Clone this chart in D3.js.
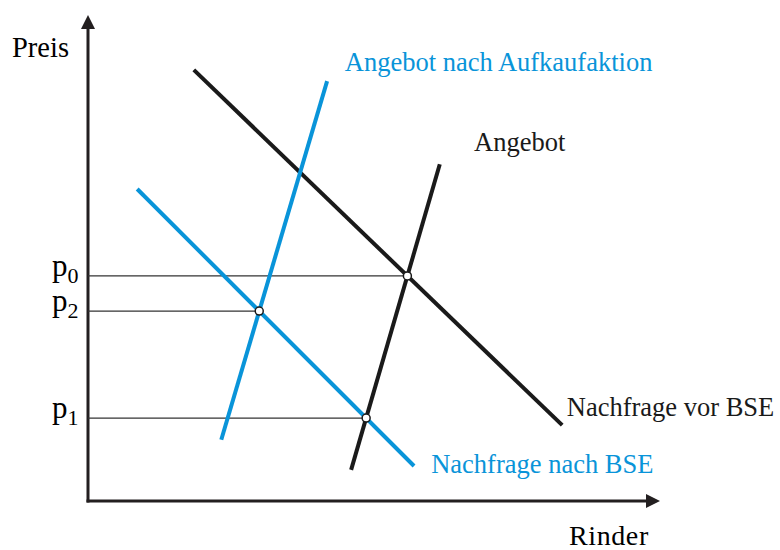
<!DOCTYPE html>
<html lang="de">
<head>
<meta charset="UTF-8">
<title>BSE Markt</title>
<script src="https://d3js.org/d3.v7.min.js"></script>
<style>
  body { margin: 0; background: #fff; }
  text { font-family: "Liberation Serif", "Times New Roman", serif; }
</style>
</head>
<body>
<script>
    const width  = 780;
    const height = 550;

    // Kurven in Modell-Einheiten (Menge, Preis), 0..100
    const curveNames  = ['Nachfrage vor BSE', 'Angebot', 'Angebot nach Aufkaufaktion', 'Nachfrage nach BSE'];
    const curveColors = ['#1a1a1a', '#1a1a1a', '#0994d9', '#0994d9'];
    const curveStart  = [[18.5, 88.7], [46.0, 6.4], [23.3, 12.6], [8.6, 64.2]];
    const curveEnd    = [[82.9, 15.6], [61.5, 69.3], [41.8, 86.4], [57.0, 7.2]];

    // Gleichgewichtspunkte: [Kurve A, Kurve B, Index]
    const equilibria  = [[0, 1, '0'], [2, 3, '2'], [3, 1, '1']];

    // Beschriftungen der Kurven (Modell-Einheiten)
    const labelPos    = [[83.7, 17.5], [67.5, 72.0], [44.9, 88.5], [60.0, 5.8]];

    const x = d3.scaleLinear().domain([0, 100]).range([88, 660]);
    const y = d3.scaleLinear().domain([0, 100]).range([501, 15]);

    const svg = d3.select("body")
            .append("svg")
            .attr("width", width)
            .attr("height", height);

    // Achsen
    svg.append("line")
            .attr("x1", x(0)).attr("y1", y(0) + 1.5)
            .attr("x2", x(0)).attr("y2", y(100) + 12)
            .style("stroke", "#231f20").style("stroke-width", 3);
    svg.append("line")
            .attr("x1", x(0) - 1.5).attr("y1", y(0))
            .attr("x2", x(100) - 12).attr("y2", y(0))
            .style("stroke", "#231f20").style("stroke-width", 3);
    svg.append("path")
            .attr("d", `M${x(0)},${y(100)} L${x(0) - 7},${y(100) + 14} L${x(0) + 7},${y(100) + 14} Z`)
            .style("fill", "#231f20");
    svg.append("path")
            .attr("d", `M${x(100)},${y(0)} L${x(100) - 14},${y(0) - 7} L${x(100) - 14},${y(0) + 7} Z`)
            .style("fill", "#231f20");

    svg.append("text").attr("x", 12).attr("y", 57)
            .style("font-size", "28.5px").text("Preis");
    svg.append("text").attr("x", 569).attr("y", 545)
            .style("font-size", "28px").style("letter-spacing", "0.6px").text("Rinder");

    // Schnittpunkt zweier Kurven
    function intersect(i, j) {
        const [x1, y1] = curveStart[i], [x2, y2] = curveEnd[i];
        const [x3, y3] = curveStart[j], [x4, y4] = curveEnd[j];
        const d = (x1 - x2) * (y3 - y4) - (y1 - y2) * (x3 - x4);
        const t = ((x1 - x3) * (y3 - y4) - (y1 - y3) * (x3 - x4)) / d;
        return [x1 + t * (x2 - x1), y1 + t * (y2 - y1)];
    }

    const points = equilibria.map(e => ({ p: intersect(e[0], e[1]), label: e[2] }));

    // Hilfslinien
    svg.selectAll(".guide")
            .data(points)
            .enter().append("line")
            .attr("x1", x(0)).attr("y1", d => y(d.p[1]))
            .attr("x2", d => x(d.p[0])).attr("y2", d => y(d.p[1]))
            .style("stroke", "#333").style("stroke-width", 1.3);

    // Kurven
    svg.selectAll(".curve")
            .data(curveNames)
            .enter().append("line")
            .attr("x1", (d, i) => x(curveStart[i][0])).attr("y1", (d, i) => y(curveStart[i][1]))
            .attr("x2", (d, i) => x(curveEnd[i][0])).attr("y2", (d, i) => y(curveEnd[i][1]))
            .style("stroke", (d, i) => curveColors[i])
            .style("stroke-width", 4);

    svg.selectAll(".curveLabel")
            .data(curveNames)
            .enter().append("text")
            .attr("x", (d, i) => x(labelPos[i][0]))
            .attr("y", (d, i) => y(labelPos[i][1]))
            .style("font-size", "26.5px")
            .style("fill", (d, i) => curveColors[i])
            .text(d => d);

    // Punkte
    svg.selectAll(".pt")
            .data(points)
            .enter().append("circle")
            .attr("cx", d => x(d.p[0])).attr("cy", d => y(d.p[1]))
            .attr("r", 4)
            .style("fill", "#fff")
            .style("stroke", "#1a1a1a").style("stroke-width", 1.5);

    // Preisbeschriftungen
    const pl = svg.selectAll(".plabel")
            .data(points)
            .enter().append("text")
            .attr("x", 52)
            .attr("y", d => y(d.p[1]))
            .style("font-size", "31px");
    pl.append("tspan").text("p");
    pl.append("tspan").attr("dy", 7).style("font-size", "22px").text(d => d.label);
</script>
</body>
</html>
